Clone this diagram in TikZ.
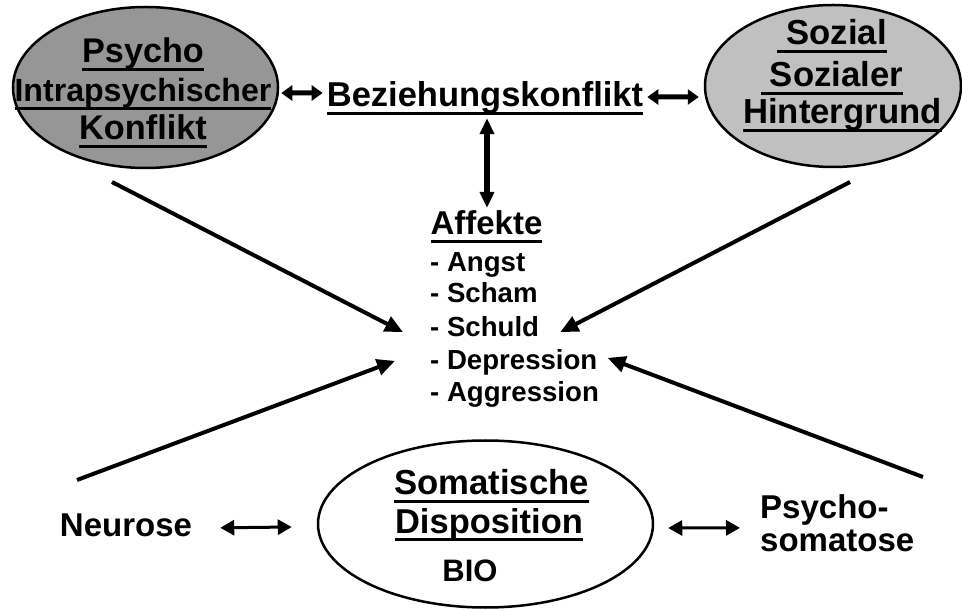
\documentclass[tikz,border=0pt]{standalone}
\usepackage{fontspec}
\setmainfont{Liberation Sans}
\usetikzlibrary{arrows.meta,shapes.geometric}

\definecolor{psyfill}{RGB}{150,150,150}
\definecolor{sozfill}{RGB}{192,192,192}

% font size helper and a thick underline
\newcommand\fsz[1]{\fontsize{#1}{#1}\selectfont}
\newcommand\ulin[1]{\setbox0\hbox{#1}\rlap{\rule[-8pt]{\wd0}{3pt}}\box0}

\tikzset{
  ell/.style={ellipse, draw=black, line width=2.5pt, inner sep=0pt},
  txt/.style={inner sep=0pt, anchor=base, font=\bfseries},
  txtw/.style={inner sep=0pt, anchor=base west, font=\bfseries},
  topdbl/.style={line width=5pt, {Triangle[length=11pt,width=15pt]}-{Triangle[length=11pt,width=15pt]}},
  vertdbl/.style={line width=5.5pt, {Triangle[length=16pt,width=14pt]}-{Triangle[length=16pt,width=14pt]}},
  diag/.style={line width=4pt, -{Triangle[length=18pt,width=16pt]}},
  botdbl/.style={line width=3pt, {Triangle[length=14pt,width=15pt]}-{Triangle[length=14pt,width=15pt]}},
}

\begin{document}
\begin{tikzpicture}[x=1pt, y=-1pt]
\useasboundingbox[fill=white] (0,0) rectangle (962,609);

% the three ellipses
\node[ell, fill=psyfill, minimum width=265pt, minimum height=161pt] (psy) at (145.5,87.5) {};
\node[ell, fill=sozfill, minimum width=256pt, minimum height=162pt] (soz) at (833,86) {};
\node[ell, fill=white, minimum width=335pt, minimum height=167pt] (soma) at (485.5,524) {};

% Psycho
\node[txt] (psy1) at (143,63)  {\fsz{34.2}\ulin{Psycho}};
\node[txt] (psy2) at (143,102) {\fsz{32.1}\ulin{Intrapsychischer}};
\node[txt] (psy3) at (143,140) {\fsz{34.3}\ulin{Konflikt}};

% Sozial
\node[txt] (soz1) at (832,45)    {\fsz{34.7}\ulin{\hspace*{9pt}Sozial}};
\node[txt] (soz2) at (832,87)    {\fsz{34.7}\ulin{\hspace*{9pt}Sozialer}};
\node[txt] (soz3) at (842.5,124) {\fsz{34.7}\ulin{Hintergrund}};

% centre
\node[txt] (bez) at (485,107)   {\fsz{34.5}\ulin{Beziehungskonflikt}};
\node[txt] (aff) at (486.5,235) {\fsz{33}\ulin{Affekte}};
\node[txtw] (l1) at (430,272) {\fsz{27.6}- Angst};
\node[txtw] (l2) at (430,303) {\fsz{27.6}- Scham};
\node[txtw] (l3) at (430,337) {\fsz{27.6}- Schuld};
\node[txtw] (l4) at (430,370) {\fsz{27.6}- Depression};
\node[txtw] (l5) at (430,402) {\fsz{27.6}- Aggression};

% BIO
\node[txt] (soma1) at (491.5,495) {\fsz{34.7}\ulin{Somatische}};
\node[txt] (soma2) at (489,533)   {\fsz{34.5}\ulin{Disposition}};
\node[txt] (soma3) at (470,582)   {\fsz{31}BIO};

% bottom side labels
\node[txt] (neu) at (126,537) {\fsz{33}Neurose};
\node[txtw] (ps1) at (760,519) {\fsz{33}Psycho-};
\node[txtw] (ps2) at (760,551) {\fsz{33}somatose};

% free ends of the diagonal arrows
\coordinate (c1) at (112,182);
\coordinate (c2) at (850,182);
\coordinate (c3) at (77,480);
\coordinate (c4) at (923,477);

% thick double arrows at the top
\draw[topdbl] ([shift={(2pt,-5.5pt)}]psy.east) -- ([shift={(-4pt,5.5pt)}]bez.west);
\draw[topdbl] ([shift={(4pt,1.5pt)}]bez.east) -- ([shift={(-5pt,-11pt)}]soz.west);
\draw[vertdbl] ([shift={(2pt,-3pt)}]bez.south) -- ([shift={(0.5pt,3pt)}]aff.north);

% diagonal arrows into the affects
\draw[diag] (c1) -- ([shift={(-27pt,-5pt)}]l3.west);
\draw[diag] (c2) -- ([shift={(21pt,-5pt)}]l3.east);
\draw[diag] (c3) -- ([shift={(-35pt,2pt)}]l4.west);
\draw[diag] (c4) -- ([shift={(10pt,5pt)}]l4.east);

% double arrows at the bottom
\draw[botdbl] ([shift={(28pt,-2pt)}]neu.east) -- ([shift={(-25pt,-3pt)}]soma.west);
\draw[botdbl] ([shift={(14pt,-4pt)}]soma.east) -- ([shift={(-20pt,-17.4pt)}]ps1.west);
\end{tikzpicture}
\end{document}
